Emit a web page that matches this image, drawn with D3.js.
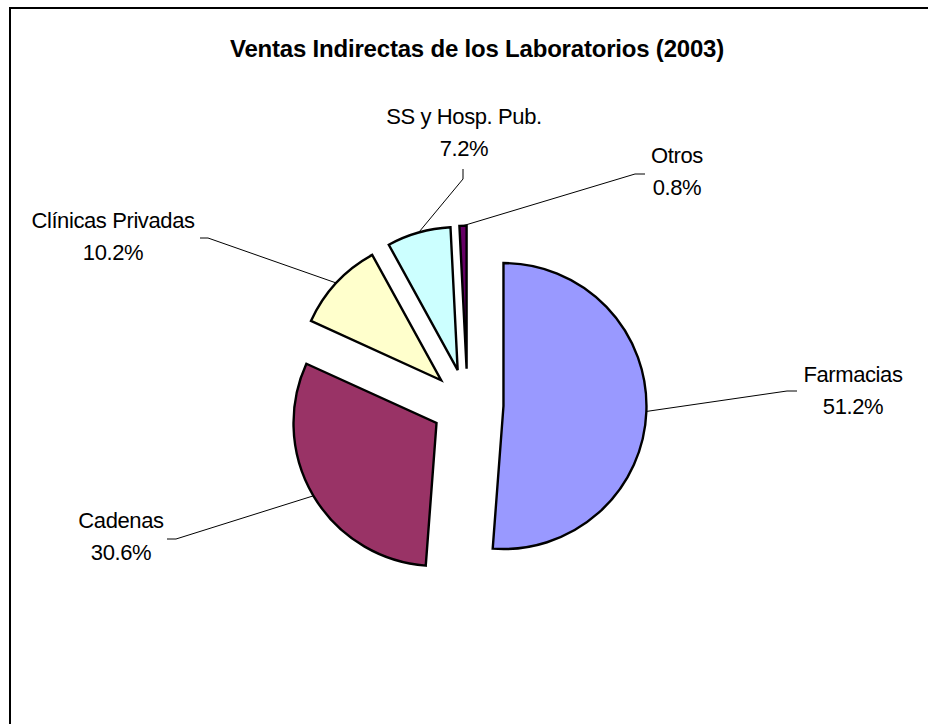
<!DOCTYPE html>
<html>
<head>
<meta charset="utf-8">
<script src="https://d3js.org/d3.v7.min.js"></script>
<style>
  body { margin: 0; background: #FFFFFF; }
  text { font-family: "Liberation Sans", Arial, sans-serif; fill: #000000; }
</style>
</head>
<body>
<div class="chart"></div>
<script>
let chartTitle = "Ventas Indirectas de los Laboratorios (2003)";
let categories = ["Farmacias", "Cadenas", "Clínicas Privadas", "SS y Hosp. Pub.", "Otros"];
let shares = [51.2, 30.6, 10.2, 7.2, 0.8];
let sliceColors = ["#9999FF", "#993366", "#FFFFCC", "#CCFFFF", "#660066"];

// where each label sits (center x, first baseline) and where its leader line bends
let labelPos = [[853, 382], [121, 528], [113, 228], [464, 124], [677, 163]];
let leaderEnd = [[[787, 391], [797, 391]], [[176, 539], [167, 539]], [[208, 238], [200, 238]],
                 [[463, 179], [463, 169]], [[635, 174], [645, 174]]];

let width = 928, height = 724;
let cx = 467.5, cy = 404.7;
let radius = 143, explode = 36;

let svg = d3.select(".chart").append("svg")
  .attr("width", width)
  .attr("height", height);

// chart area frame (runs off the right and bottom of the picture)
svg.append("rect")
  .attr("x", 10)
  .attr("y", 8)
  .attr("width", 940)
  .attr("height", 740)
  .attr("fill", "#FFFFFF")
  .attr("stroke", "#000000")
  .attr("stroke-width", 2);

svg.append("text")
  .attr("x", 477)
  .attr("y", 57)
  .attr("text-anchor", "middle")
  .style("font-size", "24px")
  .style("font-weight", "bold")
  .style("letter-spacing", "-0.2px")
  .text(chartTitle);

let pie = d3.pie().sort(null).startAngle(0).endAngle(2 * Math.PI);
let arc = d3.arc().innerRadius(0).outerRadius(radius);
let slices = pie(shares);

function midAngle(d) {
  return (d.startAngle + d.endAngle) / 2;
}

// offset of an exploded slice
function shift(d) {
  let a = midAngle(d);
  return [cx + explode * Math.sin(a), cy - explode * Math.cos(a)];
}

let g = svg.append("g");

g.selectAll(".slice")
  .data(slices)
  .enter().append("path")
  .attr("class", "slice")
  .attr("transform", function(d) {
    let p = shift(d);
    return "translate(" + p[0] + "," + p[1] + ")";
  })
  .attr("d", arc)
  .attr("fill", function(d, i) { return sliceColors[i]; })
  .attr("stroke", "#000000")
  .attr("stroke-width", 2.4)
  .attr("stroke-linejoin", "miter");

// leader lines from the middle of each arc to its label
let line = d3.line();
g.selectAll(".leader")
  .data(slices)
  .enter().append("path")
  .attr("class", "leader")
  .attr("d", function(d, i) {
    let p = shift(d);
    let a = midAngle(d);
    let start = [p[0] + radius * Math.sin(a), p[1] - radius * Math.cos(a)];
    return line([start].concat(leaderEnd[i]));
  })
  .attr("fill", "none")
  .attr("stroke", "#000000")
  .attr("stroke-width", 1);

let labels = g.selectAll(".label")
  .data(slices)
  .enter().append("text")
  .attr("class", "label")
  .attr("text-anchor", "middle")
  .style("font-size", "22px")
  .style("letter-spacing", "-0.4px");

labels.append("tspan")
  .attr("x", function(d, i) { return labelPos[i][0]; })
  .attr("y", function(d, i) { return labelPos[i][1]; })
  .text(function(d, i) { return categories[i]; });

labels.append("tspan")
  .attr("x", function(d, i) { return labelPos[i][0]; })
  .attr("y", function(d, i) { return labelPos[i][1] + 31.5; })
  .text(function(d) { return d.data.toFixed(1) + "%"; });
</script>
</body>
</html>
